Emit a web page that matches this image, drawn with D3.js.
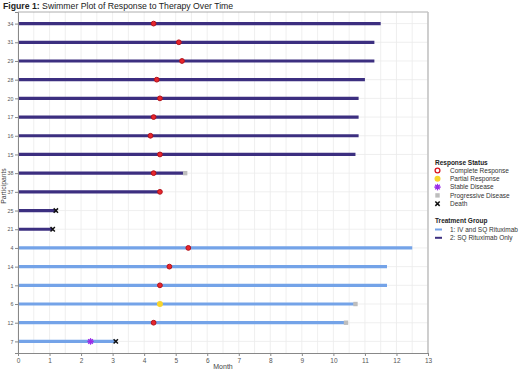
<!DOCTYPE html>
<html>
<head>
<meta charset="utf-8">
<script src="https://cdn.jsdelivr.net/npm/d3@7"></script>
<style>
  body { margin: 0; background: #fff; }
  text { font-family: Arial, "Liberation Sans", sans-serif; }
</style>
</head>
<body>
<svg id="chart" width="520" height="382"></svg>
<script>
// participants top to bottom
const participants = ["34","31","29","28","20","17","16","15","38","37","25","21","4","14","1","6","12","7"]
const groups = [2,2,2,2,2,2,2,2,2,2,2,2,1,1,1,1,1,1]
const durations = [11.5,11.3,11.3,11.0,10.8,10.8,10.8,10.7,5.3,4.5,1.2,1.1,12.5,11.7,11.7,10.65,10.4,3.1]

// response events: [participant, month]
const completeResponse = [["34",4.3],["31",5.1],["29",5.2],["28",4.4],["20",4.5],["17",4.3],["16",4.2],["15",4.5],["38",4.3],["37",4.5],["4",5.4],["14",4.8],["1",4.5],["12",4.3]]
const partialResponse = [["6",4.5]]
const stableDisease = [["7",2.3]]
const progressiveDisease = [["38",5.3],["6",10.7],["12",10.4]]
const deaths = [["25",1.2],["21",1.1],["7",3.1]]

const xTicks = d3.range(0, 14)
const gridX = d3.range(0, 13.01, 0.5)

const M = {top: 12, right: 92, bottom: 29, left: 18}
const W = 520, H = 382

const svg = d3.select('#chart')

const x = d3.scaleLinear().domain([0, 13]).range([M.left, W - M.right])
const y = d3.scalePoint().domain(participants).range([M.top, H - M.bottom]).padding(0.62)

const groupColor = d3.scaleOrdinal().domain([1, 2]).range(['#74a3e8', '#3c2f80'])

// title
let title = svg.append('text').attr('x', 3).attr('y', 9).style('font-size', '8.7px').attr('fill', '#222')
title.append('tspan').style('font-weight', 'bold').text('Figure 1:')
title.append('tspan').text(' Swimmer Plot of Response to Therapy Over Time')

// grid
svg.append('g').selectAll('line').data(gridX).join('line')
  .attr('x1', d => x(d)).attr('x2', d => x(d))
  .attr('y1', M.top).attr('y2', H - M.bottom)
  .attr('stroke', '#ebebeb').attr('stroke-width', 0.8)

svg.append('g').selectAll('line').data(participants).join('line')
  .attr('x1', M.left).attr('x2', W - M.right)
  .attr('y1', d => y(d)).attr('y2', d => y(d))
  .attr('stroke', '#ebebeb').attr('stroke-width', 0.8)

// frame
svg.append('line').attr('x1', M.left).attr('x2', W - M.right).attr('y1', M.top).attr('y2', M.top)
  .attr('stroke', '#999').attr('stroke-width', 0.8)
svg.append('line').attr('x1', W - M.right).attr('x2', W - M.right).attr('y1', M.top).attr('y2', H - M.bottom)
  .attr('stroke', '#c4c4c4').attr('stroke-width', 1.6)

// bars
svg.append('g').selectAll('line').data(participants).join('line')
  .attr('x1', x(0)).attr('x2', (d, i) => x(durations[i]))
  .attr('y1', d => y(d)).attr('y2', d => y(d))
  .attr('stroke', (d, i) => groupColor(groups[i]))
  .attr('stroke-width', 3.2)

// axes
let xAxis = svg.append('g')
  .attr('transform', 'translate(0,' + (H - M.bottom) + ')')
  .call(d3.axisBottom(x).tickValues(xTicks).tickSize(3).tickPadding(2))
xAxis.select('.domain').attr('stroke', '#888')
xAxis.selectAll('.tick line').attr('stroke', '#888')
xAxis.selectAll('.tick text').style('font-size', '6.5px').attr('fill', '#555')

let yAxis = svg.append('g')
  .attr('transform', 'translate(' + M.left + ',0)')
  .call(d3.axisLeft(y).tickSize(3).tickPadding(1.5))
yAxis.select('.domain').attr('stroke', '#888')
yAxis.selectAll('.tick line').attr('stroke', '#888')
yAxis.selectAll('.tick text').style('font-size', '5.3px').attr('fill', '#555')

svg.append('text').attr('x', 223).attr('y', 369).attr('text-anchor', 'middle')
  .style('font-size', '7px').attr('fill', '#444').text('Month')
svg.append('text').attr('transform', 'translate(6,186) rotate(-90)').attr('text-anchor', 'middle')
  .style('font-size', '6.8px').attr('fill', '#444').text('Participants')

// markers
function drawMarker(g, type, cx, cy) {
  if (type === 'cr') {
    g.append('circle').attr('cx', cx).attr('cy', cy).attr('r', 2.4)
      .attr('fill', '#e8262c').attr('stroke', '#b3121b').attr('stroke-width', 1)
  } else if (type === 'pr') {
    g.append('circle').attr('cx', cx).attr('cy', cy).attr('r', 3)
      .attr('fill', '#f7d52e')
  } else if (type === 'sd') {
    let s = g.append('g').attr('transform', 'translate(' + cx + ',' + cy + ')')
    d3.range(0, 180, 45).forEach(a => {
      s.append('line').attr('x1', -3.3).attr('x2', 3.3).attr('y1', 0).attr('y2', 0)
        .attr('transform', 'rotate(' + a + ')')
        .attr('stroke', '#9b2ee8').attr('stroke-width', 1.2)
    })
    s.append('circle').attr('r', 2.2).attr('fill', '#9b2ee8')
  } else if (type === 'pd') {
    g.append('rect').attr('x', cx - 2.2).attr('y', cy - 2.2).attr('width', 4.4).attr('height', 4.4)
      .attr('fill', '#bdbdbd')
  } else if (type === 'death') {
    g.append('path').attr('transform', 'translate(' + cx + ',' + cy + ')')
      .attr('d', d3.symbol(d3.symbolX, 14)()).attr('stroke', '#111').attr('stroke-width', 1.5)
      .attr('fill', 'none')
  }
}

let marks = svg.append('g')
progressiveDisease.forEach(d => drawMarker(marks, 'pd', x(d[1]), y(d[0])))
completeResponse.forEach(d => drawMarker(marks, 'cr', x(d[1]), y(d[0])))
partialResponse.forEach(d => drawMarker(marks, 'pr', x(d[1]), y(d[0])))
stableDisease.forEach(d => drawMarker(marks, 'sd', x(d[1]), y(d[0])))
deaths.forEach(d => drawMarker(marks, 'death', x(d[1]), y(d[0])))

// legend
const responseLabels = ['Complete Response', 'Partial Response', 'Stable Disease', 'Progressive Disease', 'Death']
const responseKeys = ['cr_open', 'pr', 'sd', 'pd', 'death']
const groupLabels = ['1: IV and SQ Rituximab', '2: SQ Rituximab Only']

let leg = svg.append('g')
leg.append('text').attr('x', 435).attr('y', 165).style('font-size', '6.5px').style('font-weight', 'bold')
  .attr('fill', '#222').text('Response Status')
responseLabels.forEach((lab, i) => {
  let cy = 170.5 + i * 8.3
  if (responseKeys[i] === 'cr_open') {
    leg.append('circle').attr('cx', 437.5).attr('cy', cy).attr('r', 2.4)
      .attr('fill', 'none').attr('stroke', '#d9151e').attr('stroke-width', 1.3)
  } else {
    drawMarker(leg, responseKeys[i], 437.5, cy)
  }
  leg.append('text').attr('x', 450).attr('y', cy + 2.2).style('font-size', '6.5px').attr('fill', '#333').text(lab)
})
leg.append('text').attr('x', 435).attr('y', 223).style('font-size', '6.5px').style('font-weight', 'bold')
  .attr('fill', '#222').text('Treatment Group')
groupLabels.forEach((lab, i) => {
  let cy = 229.5 + i * 8.3
  leg.append('line').attr('x1', 435).attr('x2', 442).attr('y1', cy).attr('y2', cy)
    .attr('stroke', groupColor(i + 1)).attr('stroke-width', 2)
  leg.append('text').attr('x', 450).attr('y', cy + 2.2).style('font-size', '6.5px').attr('fill', '#333').text(lab)
})
</script>
</body>
</html>
